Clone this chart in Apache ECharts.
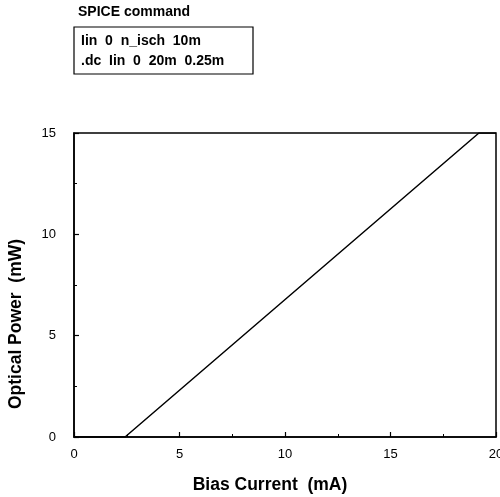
<!DOCTYPE html>
<html>
<head>
<meta charset="utf-8">
<script src="https://cdn.jsdelivr.net/npm/echarts@6/dist/echarts.min.js"></script>
<style>
  html, body { margin: 0; padding: 0; background: #fff; }
  #chart { width: 500px; height: 497px; }
</style>
</head>
<body>
<div id="chart"></div>
<script>
// Laser diode L-I curve: optical power versus bias current
const biasCurrent = [0, 2.42, 19.19, 20];      // mA
const opticalPower = [0, 0, 15, 15];            // mW
const xTicks = [0, 5, 10, 15, 20];
const yTicks = [0, 5, 10, 15];
const spiceTitle = 'SPICE command';
const spiceLines = ['Iin  0  n_isch  10m', '.dc  Iin  0  20m  0.25m'];
const xName = 'Bias Current  (mA)';
const yName = 'Optical Power  (mW)';

const FONT = '"Liberation Sans", Arial, Helvetica, sans-serif';
const chart = echarts.init(document.getElementById('chart'), null, { renderer: 'canvas' });

chart.setOption({
  animation: false,
  backgroundColor: '#fff',
  grid: {
    left: 74, right: 4, top: 133, bottom: 60,
    outerBoundsMode: 'none', containLabel: false,
    show: true, borderColor: '#000', borderWidth: 1.5, backgroundColor: 'transparent'
  },
  xAxis: {
    type: 'value',
    min: xTicks[0], max: xTicks[xTicks.length - 1], interval: 5,
    axisLine: { show: true, onZero: false, lineStyle: { color: '#000', width: 1.5 } },
    axisTick: { show: true, inside: true, length: 5, lineStyle: { color: '#000', width: 1.2 } },
    minorTick: { show: true, splitNumber: 2, length: 3, lineStyle: { color: '#000', width: 1 } },
    splitLine: { show: false },
    axisLabel: { color: '#000', fontSize: 13, fontFamily: FONT, margin: 11, hideOverlap: false }
  },
  yAxis: {
    type: 'value',
    min: yTicks[0], max: yTicks[yTicks.length - 1], interval: 5,
    axisLine: { show: true, onZero: false, lineStyle: { color: '#000', width: 1.5 } },
    axisTick: { show: true, inside: true, length: 5, lineStyle: { color: '#000', width: 1.2 } },
    minorTick: { show: true, splitNumber: 2, length: 3, lineStyle: { color: '#000', width: 1 } },
    splitLine: { show: false },
    axisLabel: { color: '#000', fontSize: 13, fontFamily: FONT, margin: 18 }
  },
  series: [{
    type: 'line',
    data: biasCurrent.map((x, i) => [x, opticalPower[i]]),
    showSymbol: false,
    lineStyle: { color: '#000', width: 1.5 },
    clip: true
  }],
  graphic: [
    {
      type: 'text', left: 78, top: 5,
      style: { text: spiceTitle, font: 'bold 14px ' + FONT, fill: '#000' }
    },
    {
      type: 'rect', shape: { x: 74, y: 27, width: 179, height: 47 },
      style: { fill: '#fff', stroke: '#000', lineWidth: 1.2 }
    },
    {
      type: 'text', left: 81, top: 34,
      style: { text: spiceLines[0], font: 'bold 14px ' + FONT, fill: '#000' }
    },
    {
      type: 'text', left: 81, top: 54,
      style: { text: spiceLines[1], font: 'bold 14px ' + FONT, fill: '#000' }
    },
    {
      type: 'text', x: 270, y: 485,
      style: { text: xName, font: 'bold 17.5px ' + FONT, fill: '#000', align: 'center', verticalAlign: 'middle' }
    },
    {
      type: 'text', x: 16, y: 324, rotation: Math.PI / 2,
      style: { text: yName, font: 'bold 17.5px ' + FONT, fill: '#000', align: 'center', verticalAlign: 'middle' }
    }
  ]
});
</script>
</body>
</html>
